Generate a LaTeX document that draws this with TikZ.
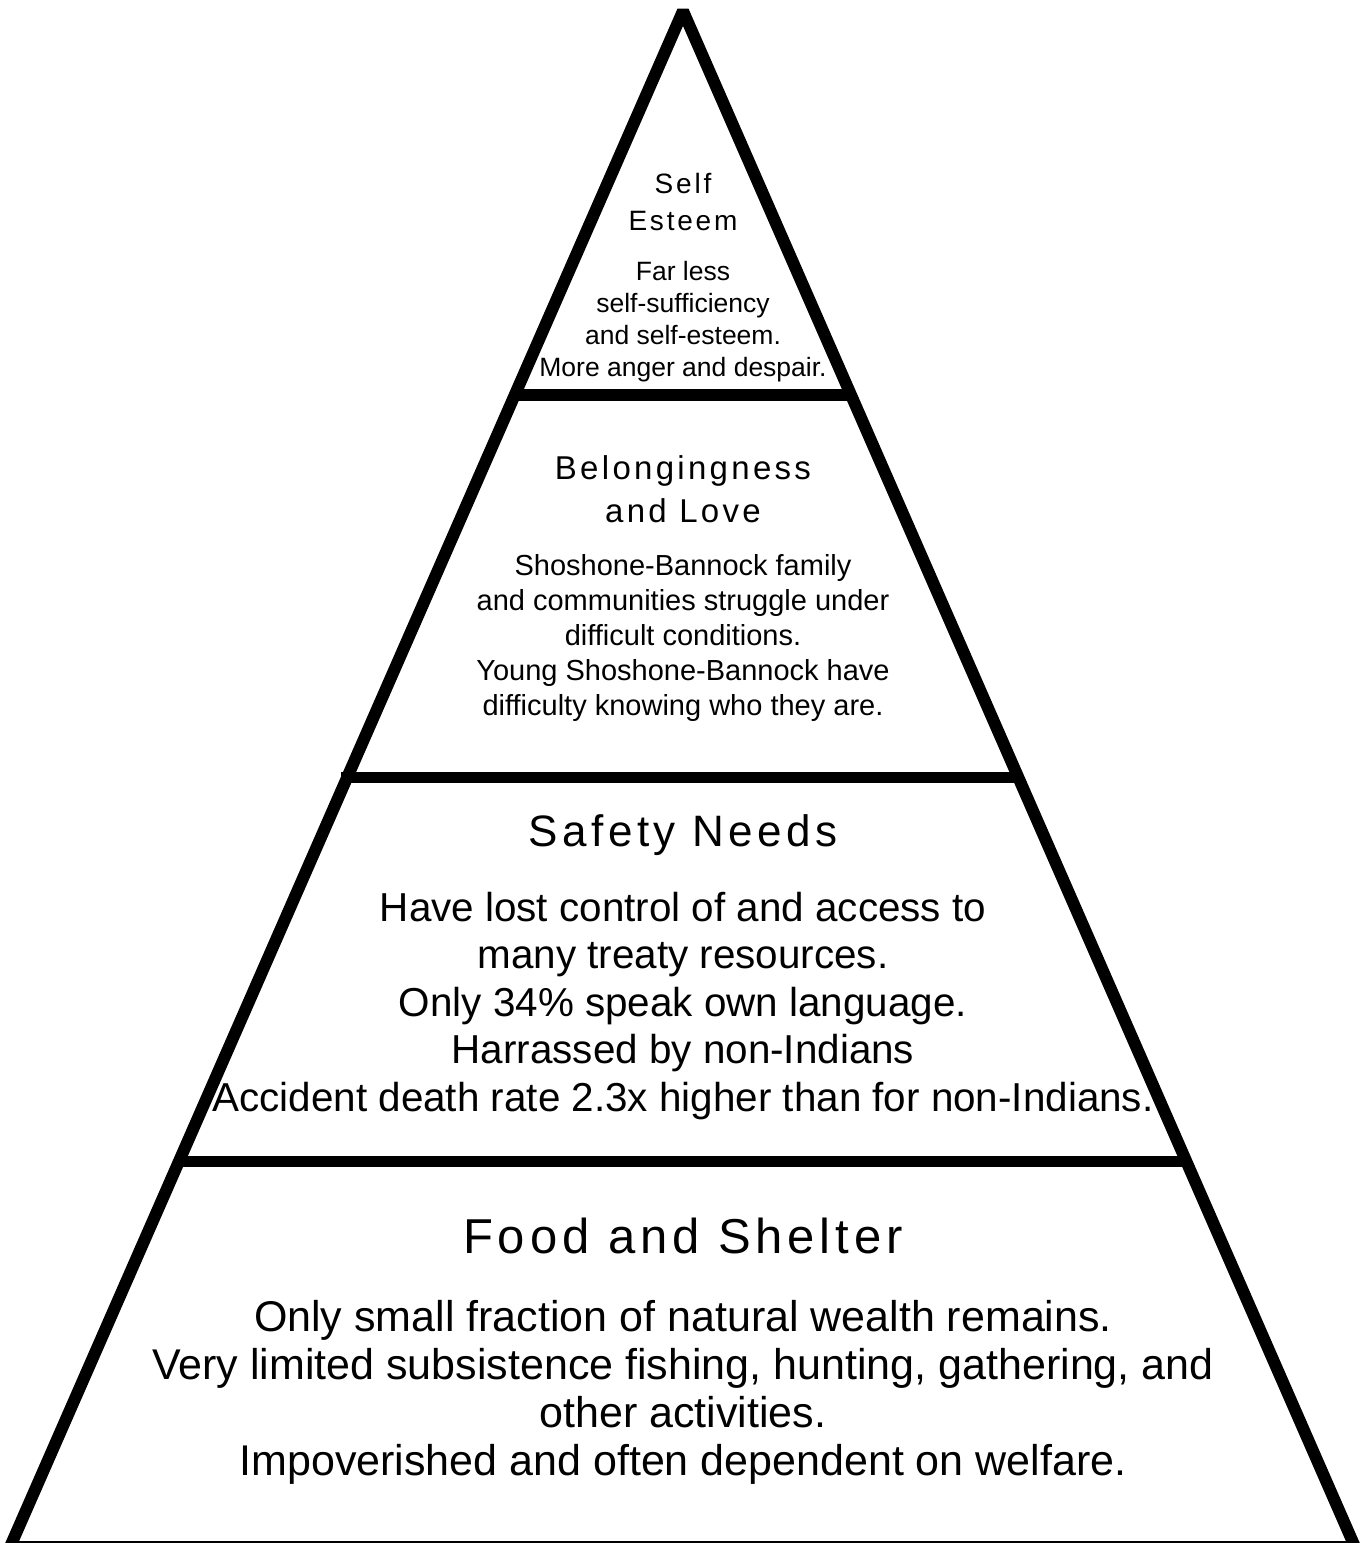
\documentclass[tikz,border=0pt]{standalone}
\usepackage{fontspec}
\setmainfont{Liberation Sans}
\newfontfamily\headfont[LetterSpace=10]{Liberation Sans}
\usetikzlibrary{calc}

\begin{document}
\begin{tikzpicture}[x=1pt, y=-1pt, line join=bevel,
  side/.style={line width=12pt},
  bar/.style={line width=11.5pt},
  level/.style={align=center, inner sep=0pt}]
\useasboundingbox (0,0) rectangle (1361,1543);
% pyramide
\coordinate (apex) at (683,11);
\coordinate (bl) at (10,1547);
\coordinate (br) at (1355,1547);
\draw[side] (bl) -- (apex) -- (br) -- cycle;
% niveaux
\draw[bar] ($(apex)!.250!(bl)$) -- ($(apex)!.250!(br)$);
\draw[bar] ($(apex)!.499!(bl)+(-6,0)$) -- ($(apex)!.499!(br)$);
\draw[bar] ($(apex)!.749!(bl)$) -- ($(apex)!.749!(br)$);
% self esteem
\node[level, font=\headfont\fontsize{28}{37}\selectfont] (selfhead) at (683,202) {Self\\Esteem};
\node[level, font=\fontsize{26.5}{32}\selectfont] (selftext) at (683,321.5)
  {Far less\\self-sufficiency\\and self-esteem.\\More anger and despair.};
% belongingness
\node[level, font=\headfont\fontsize{33}{43}\selectfont] (lovehead) at (683,489) {Belongingness\\and Love};
\node[level, font=\fontsize{29}{35}\selectfont] (lovetext) at (683,638)
  {Shoshone-Bannock family\\and communities struggle under\\difficult conditions.\\Young Shoshone-Bannock have\\difficulty knowing who they are.};
% safety
\node[level, font=\headfont\fontsize{44}{52}\selectfont] (safehead) at (683,835) {Safety Needs};
\node[level, font=\fontsize{40.4}{47.5}\selectfont] (safetext) at (683,1006)
  {Have lost control of and access to\\many treaty resources.\\Only 34\% speak own language.\\Harrassed by non-Indians\\Accident death rate 2.3x higher than for non-Indians.};
% food
\node[level, font=\headfont\fontsize{49}{56}\selectfont] (foodhead) at (683,1236) {Food and Shelter};
\node[level, font=\fontsize{43}{48}\selectfont] (foodtext) at (683,1392.5)
  {Only small fraction of natural wealth remains.\\Very limited subsistence fishing, hunting, gathering, and\\other activities.\\Impoverished and often dependent on welfare.};
\end{tikzpicture}
\end{document}
